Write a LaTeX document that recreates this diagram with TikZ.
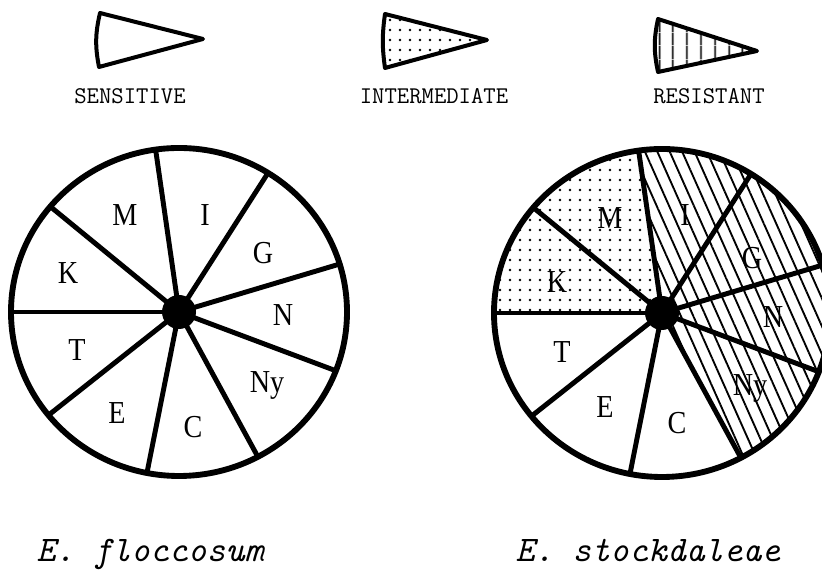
\documentclass[tikz,border=0pt]{standalone}
\usepackage{graphicx}
\usepackage{fontspec}
\setmainfont{Liberation Serif}
\usetikzlibrary{patterns, patterns.meta}

\newcommand{\narrow}[1]{\scalebox{0.88}[1]{#1}}

\begin{document}
\begin{tikzpicture}[x=0.75pt, y=0.75pt,
		rim/.style={line width=4.4pt},
		spoke/.style={line width=3.7pt, line cap=round},
		wedge/.style={line width=3pt, line join=round},
		drug/.style={font=\fontsize{24}{26}\selectfont},
		legend/.style={font=\fontsize{18}{20}\selectfont\ttfamily},
		species/.style={font=\fontsize{27}{30}\selectfont\ttfamily\itshape, anchor=base},
		dotfill/.style={pattern={Dots[distance=7.5pt, radius=1pt]}},
		hatchfill/.style={pattern={Lines[angle=-66, distance=8.5pt, line width=1.4pt]}}]
		% Frame
		\useasboundingbox (0,0) rectangle (822,570);
		\clip (0,0) rectangle (822,570);

		% Legend wedges
		\draw[wedge] (203,531) -- (100,557) to[bend right=12] (99,503) -- cycle;
		\node[legend] (sens) at (130,474) {SENSITIVE};
		\draw[wedge, dotfill] (487,530) -- (385,556) to[bend right=8] (385,502) -- cycle;
		\node[legend] (inter) at (434,474) {INTERMEDIATE};
		\draw[wedge, pattern={Lines[angle=90, distance=10.5pt, line width=1.4pt]}] (757,519) -- (658,551) to[bend right=12] (658,498) -- cycle;
		\node[legend] (res) at (709,474) {RESISTANT};

		% Left disc (all sensitive)
		\coordinate (L) at (179,258);
		\draw[rim] (L) ellipse [x radius=168, y radius=164];
		\foreach \a in {98,58,17,-21,-62,-101,219,180,140}
			\draw[spoke] (L) -- ++(\a:168 and 164);
		\fill (L) circle [radius=17];

		\node[drug] (lM) at (125,355) {\narrow{M}};
		\node[drug] (lI) at (205,355) {\narrow{I}};
		\node[drug] (lG) at (263,317) {\narrow{G}};
		\node[drug] (lK) at (68,297) {\narrow{K}};
		\node[drug] (lN) at (283,255) {\narrow{N}};
		\node[drug] (lT) at (77,220) {\narrow{T}};
		\node[drug] (lNy) at (267,185) {\narrow{Ny}};
		\node[drug] (lE) at (117,157) {\narrow{E}};
		\node[drug] (lC) at (193,143) {\narrow{C}};

		% Right disc
		\coordinate (R) at (662,257);
		\fill[dotfill] (R) -- ++(98:168 and 164) arc[start angle=98, end angle=180, x radius=168, y radius=164] -- cycle;
		\fill[hatchfill] (R) -- ++(-62:168 and 164) arc[start angle=-62, end angle=98, x radius=168, y radius=164] -- cycle;
		\draw[rim] (R) ellipse [x radius=168, y radius=164];
		\foreach \a in {98,58,17,-21,-62,-101,219,180,140}
			\draw[spoke] (R) -- ++(\a:168 and 164);
		\fill (R) circle [radius=17];

		\node[drug] (rM) at (610,352) {\narrow{M}};
		\node[drug] (rI) at (685,355) {\narrow{I}};
		\node[drug] (rG) at (752,312) {\narrow{G}};
		\node[drug] (rK) at (557,288) {\narrow{K}};
		\node[drug] (rN) at (773,253) {\narrow{N}};
		\node[drug] (rT) at (562,218) {\narrow{T}};
		\node[drug] (rNy) at (750,182) {\narrow{Ny}};
		\node[drug] (rE) at (605,163) {\narrow{E}};
		\node[drug] (rC) at (677,147) {\narrow{C}};

		% Species names
		\node[species] (flocc) at (150,8) {E. floccosum};
		\node[species] (stock) at (648,8) {E. stockdaleae};
	\end{tikzpicture}
\end{document}
